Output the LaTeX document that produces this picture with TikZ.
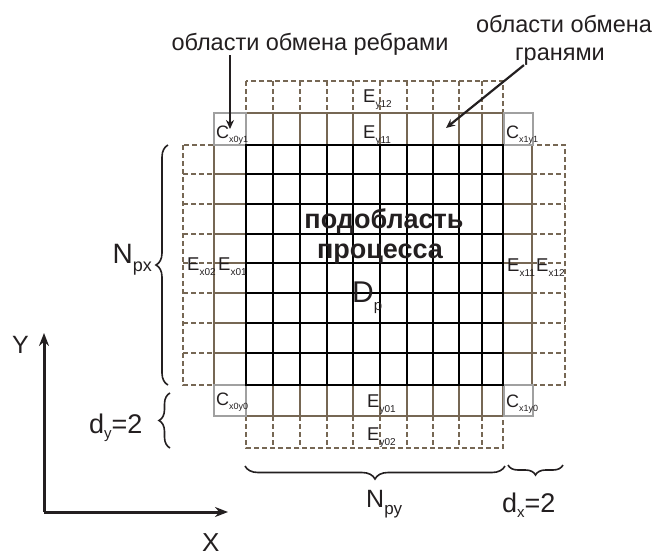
\documentclass[tikz,border=0pt]{standalone}
\usepackage{fontspec}
\setmainfont{Liberation Sans}
\usetikzlibrary{arrows.meta, decorations.pathreplacing, calc}

\definecolor{ghostbrown}{RGB}{118,103,84}
\definecolor{cornergray}{RGB}{160,160,160}
\definecolor{inkdark}{RGB}{35,31,32}

\newcommand{\lowsub}[3]{\raisebox{-#1}{\fontsize{#2}{#2}\selectfont #3}}

\tikzstyle{ghost} = [draw=ghostbrown, line width=2.5pt]
\tikzstyle{ghostdash} = [draw=ghostbrown, line width=2.3pt, dash pattern=on 5pt off 3pt]
\tikzstyle{corner} = [draw=cornergray, line width=2pt, inner sep=0pt]
\tikzstyle{inner} = [draw=black, line width=2.8pt]
\tikzstyle{arrow} = [line width=2.2pt, draw=inkdark, -{Stealth[length=9pt,width=8pt]}]
\tikzstyle{axis} = [line width=3pt, draw=inkdark, -{Stealth[length=13pt,width=10pt]}]
\tikzstyle{brace} = [decorate, decoration={brace, amplitude=12pt}, line width=1.6pt, draw=inkdark]
\tikzstyle{cell} = [inner sep=0pt, anchor=base west, text=inkdark, font=\fontsize{18.5}{18.5}\selectfont]
\tikzstyle{caption} = [inner sep=0pt, anchor=base, text=inkdark, font=\fontsize{23.5}{26}\selectfont]
\tikzstyle{big} = [inner sep=0pt, anchor=base west, text=inkdark, font=\fontsize{27}{27}\selectfont]

\begin{document}
\begin{tikzpicture}[x=1pt, y=-1pt]
        \useasboundingbox (0,0) rectangle (661,555);

        % dashed outer exchange layers
        \draw[ghostdash] (246,81) rectangle (503,113);
        \draw[ghostdash] (246,416) rectangle (503,448);
        \foreach \x in {273,300,327,353,380,407,433,459,482} {
            \draw[ghostdash] (\x,81) -- (\x,113);
            \draw[ghostdash] (\x,416) -- (\x,448);
        }
        \draw[ghostdash] (183,145) rectangle (214,385);
        \draw[ghostdash] (532,145) rectangle (565,385);
        \foreach \y in {174,204,234,263,293,323,353} {
            \draw[ghostdash] (183,\y) -- (214,\y);
            \draw[ghostdash] (532,\y) -- (565,\y);
        }

        % solid inner exchange layers
        \draw[ghost] (246,113) rectangle (503,145);
        \draw[ghost] (246,385) rectangle (503,416);
        \foreach \x in {273,300,327,353,380,407,433,459,482} {
            \draw[ghost] (\x,113) -- (\x,145);
            \draw[ghost] (\x,385) -- (\x,416);
        }
        \draw[ghost] (214,145) rectangle (246,385);
        \draw[ghost] (503,145) rectangle (532,385);
        \foreach \y in {174,204,234,263,293,323,353} {
            \draw[ghost] (214,\y) -- (246,\y);
            \draw[ghost] (503,\y) -- (532,\y);
        }

        % corner boxes
        \node[corner, minimum width=32pt, minimum height=32pt] (c01) at (230,129) {};
        \node[corner, minimum width=29pt, minimum height=32pt] (c11) at (518,129) {};
        \node[corner, minimum width=32pt, minimum height=31pt] (c00) at (230,400.5) {};
        \node[corner, minimum width=29pt, minimum height=31pt] (c10) at (518,400.5) {};

        % process subdomain
        \foreach \x in {273,300,327,353,380,407,433,459,482}
            \draw[inner] (\x,145) -- (\x,385);
        \foreach \y in {174,204,234,263,293,323,353}
            \draw[inner] (246,\y) -- (503,\y);
        \draw[inner] (246,145) rectangle (503,385);

        % cell labels
        \node[cell] (ey12) at (363,102) {E\lowsub{5pt}{10}{y12}};
        \node[cell] (ey11) at (363,138) {E\lowsub{5pt}{10}{y11}};
        \node[cell] (ey01) at (367,407) {E\lowsub{5pt}{10}{y01}};
        \node[cell] (ey02) at (367,440) {E\lowsub{5pt}{10}{y02}};
        \node[cell] (ex02) at (187,270) {E\lowsub{5pt}{10}{x02}};
        \node[cell] (ex01) at (218,270) {E\lowsub{5pt}{10}{x01}};
        \node[cell] (ex11) at (507,271) {E\lowsub{5pt}{10}{x11}};
        \node[cell] (ex12) at (536,271) {E\lowsub{5pt}{10}{x12}};
        \node[cell, font=\fontsize{18}{18}\selectfont] (lc01) at (216,138) {C\lowsub{4pt}{9}{x0y1}};
        \node[cell, font=\fontsize{18}{18}\selectfont] (lc11) at (506,138) {C\lowsub{4pt}{9}{x1y1}};
        \node[cell, font=\fontsize{18}{18}\selectfont] (lc00) at (216,405) {C\lowsub{4pt}{9}{x0y0}};
        \node[cell, font=\fontsize{18}{18}\selectfont] (lc10) at (506,407) {C\lowsub{4pt}{9}{x1y0}};

        % subdomain caption
        \node[caption, font=\bfseries\fontsize{27}{27}\selectfont] (sub1) at (384,228) {подобласть};
        \node[caption, font=\bfseries\fontsize{27}{27}\selectfont] (sub2) at (380,258) {процесса};
        \node[big, font=\fontsize{30}{30}\selectfont] (dp) at (352,302) {D\lowsub{8pt}{15}{p}};

        % exchange captions
        \node[caption] (edgelbl) at (310,50) {области обмена ребрами};
        \node[caption] (face1) at (564,32) {области обмена};
        \node[caption] (face2) at (560,60) {гранями};
        \coordinate (facetip) at (446,128);
        \draw[arrow] (edgelbl.south -| c01.center) -- (c01.center);
        \draw[arrow] ($(face2.south west)+(9,0)$) -- (facetip);

        % sizes
        \coordinate (bpx1) at (168,385);
        \coordinate (bpx2) at (168,145);
        \coordinate (bdy1) at (170,448);
        \coordinate (bdy2) at (170,393);
        \coordinate (bpy1) at (505,466);
        \coordinate (bpy2) at (245,466);
        \coordinate (bdx1) at (563,465);
        \coordinate (bdx2) at (508,465);
        \draw[brace] (bpx1) -- (bpx2);
        \draw[brace, decoration={amplitude=11pt}] (bdy1) -- (bdy2);
        \draw[brace, decoration={amplitude=13pt}] (bpy1) -- (bpy2);
        \draw[brace, decoration={amplitude=10pt}] (bdx1) -- (bdx2);
        \node[big, anchor=base east, font=\fontsize{28}{28}\selectfont] (npx) at (152,263) {N\lowsub{8pt}{18}{px}};
        \node[big, font=\fontsize{25}{25}\selectfont] (npy) at (366,507) {N\lowsub{7pt}{17}{py}};
        \node[big] (dy) at (89,433) {d\lowsub{5pt}{15}{y}=2};
        \node[big] (dx) at (502,512) {d\lowsub{5pt}{15}{x}=2};

        % axes
        \coordinate (origin) at (44,512);
        \coordinate (yend) at (44,333);
        \coordinate (xend) at (228,512);
        \draw[axis] (origin) -- (yend);
        \draw[axis] (origin) -- (xend);
        \node[big, font=\fontsize{25}{25}\selectfont] (ylbl) at (12,353) {Y};
        \node[big, font=\fontsize{26}{26}\selectfont] (xlbl) at (202,551) {X};
    \end{tikzpicture}
\end{document}
